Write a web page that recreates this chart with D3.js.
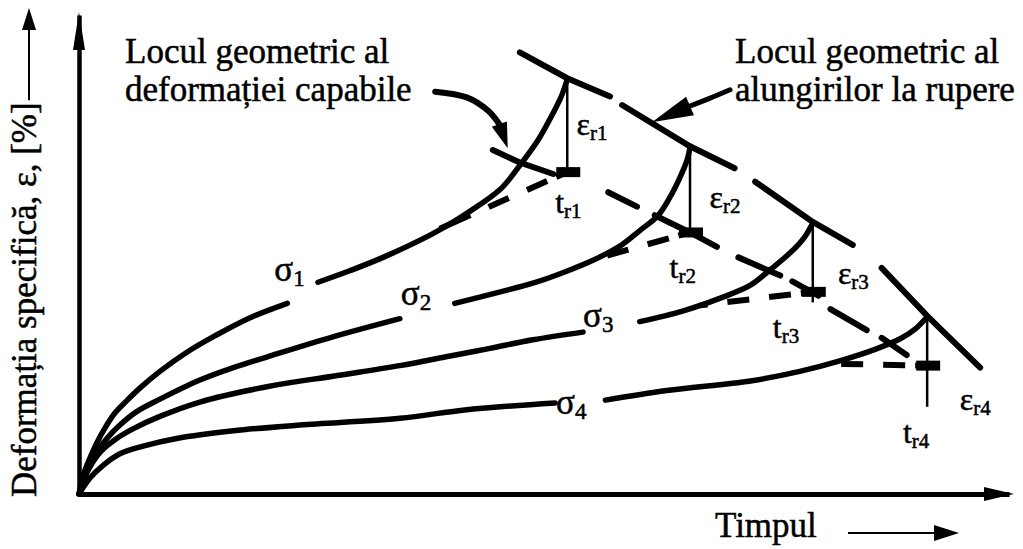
<!DOCTYPE html>
<html>
<head>
<meta charset="utf-8">
<script src="https://cdn.jsdelivr.net/npm/d3@7"></script>
<style>
  html, body { margin: 0; padding: 0; background: #fff; }
  svg { display: block; }
  text { font-family: "Liberation Serif", "Times New Roman", serif; fill: #000; stroke: #000; stroke-width: 0.5px; }
</style>
</head>
<body>
<svg id="chart" width="1023" height="549"></svg>
<script>
// Creep curves: specific strain ε versus time for four stress levels σ1 > σ2 > σ3 > σ4.
// Each curve is a list of [time, strain] points; null marks a break where a label sits.
const stressNames = ["1", "2", "3", "4"];

const creep1 = [[0,0],[0.5,2.1],[1.2,3.8],[1.9,5.3],[2.8,6.9],[3.9,8.5],[5.2,9.8],[6.6,11.1],[8.7,12.8],[11.6,14.8],[14.6,16.5],[18.4,18.4],[22.4,19.9],
  null,[25.7,22.1],[29.1,23.3],[32.7,24.7],[38.1,27.2],[41.7,29.3],[45.3,31.8],[47.4,34.3],[49.4,37.0],[51.0,39.8],[51.9,41.6],[52.5,43.3]];
const creep2 = [[0,0],[0.8,2.3],[1.7,4.1],[3.0,5.8],[4.4,7.2],[6.2,8.6],[8.7,9.9],[13.0,11.9],[16.6,13.2],[20.2,14.3],[27.3,16.4],[34.5,18.3],
  null,[40.4,19.9],[45.3,21.1],[48.8,22.0],[52.3,23.2],[55.5,24.5],[58.2,25.9],[60.3,27.5],[62.2,29.0],[63.5,30.9],[64.6,33.0],[65.4,34.9],[65.7,36.2]];
const creep3 = [[0,0],[1.0,2.5],[2.3,4.4],[3.9,5.7],[5.8,6.8],[8.7,8.1],[13.0,9.6],[20.2,11.2],[27.3,12.3],[34.5,13.4],[39.9,14.4],[44.2,15.2],[48.8,16.1],[54.2,16.9],
  null,[60.3,18.0],[64.9,19.1],[69.1,20.5],[72.2,21.8],[74.3,23.4],[76.5,25.2],[78.0,26.8],[78.9,28.3]];
const creep4 = [[0,0],[1.2,1.7],[2.6,3.0],[4.4,4.2],[6.9,5.0],[10.5,5.8],[16.6,6.6],[23.8,7.2],[34.5,7.9],[41.7,8.8],[51.2,9.5],
  null,[56.6,9.8],[63.2,10.8],[72.2,11.8],[77.5,12.8],[81.8,13.9],[85.6,15.1],[88.3,16.2],[89.9,17.2],[91.2,18.5]];

// Rupture: time t_r, strain at rupture, and the foot of the ε_r segment
const ruptureTime   = [52.5, 65.7, 78.9, 91.2];
const ruptureStrain = [43.3, 36.2, 28.3, 18.5];
const footStrain    = [33.4, 27.2, 20.0, 9.1];

// Straight continuation of the secondary (steady) creep stage up to t_r
const extensionFrom = [[38.8,27.7],[55.7,24.6],[66.8,19.7],[80.8,13.6]];
const extensionTo   = [33.6, 27.3, 21.1, 13.4];

// Locus of elongations at rupture (broken line)
const ruptureLocus = [[47.4,46.1],[52.5,43.4],[57.1,41.5], null,
  [58.4,40.6],[65.7,36.3],[70.5,34.0], null,
  [72.7,32.6],[78.9,28.4],[83.2,26.0], null,
  [86.3,23.6],[91.2,18.6],[96.9,13.2]];

// Locus of the admissible (capable) strain, where tertiary creep begins
const capableLocus = [[44.5,35.9],[47.4,34.6],[51.0,33.4], null,
  [56.9,31.5],[60.0,30.0], null,
  [61.9,29.1],[65.7,27.3],[68.6,25.8], null,
  [70.9,24.7],[75.4,22.8], null,
  [76.7,22.2],[79.5,20.7], null,
  [80.8,19.3],[84.7,17.1], null,
  [86.3,16.3],[89.0,14.5]];

// Pointer arrows from the two notes to their loci
const capableArrow = [[38.3,42.0],[41.7,41.4],[44.0,40.0],[45.2,38.6]];
const capableArrowTip = [46.1,36.1];
const ruptureArrow = [[70.0,42.2],[67.8,41.3],[65.7,40.5]];
const ruptureArrowTip = [61.6,38.8];

// Label anchors (time, strain)
const sigmaAnchor = [[21.0,22.2],[34.6,19.7],[54.2,17.4],[51.3,8.4]];
const epsAnchor   = [[53.5,37.5],[67.8,29.9],[81.6,21.9],[94.7,8.8]];
const timeAnchor  = [[51.2,29.3],[63.5,22.5],[74.6,16.3],[88.6,5.3]];

const yTitle = "Deformația specifică, ε, [%]";
const xTitle = "Timpul";
const leftNote = ["Locul geometric al", "deformației capabile"];
const rightNote = ["Locul geometric al", "alungirilor la rupere"];

const svg = d3.select("#chart");
const x = d3.scaleLinear().domain([0, 100]).range([79, 1009]);
const y = d3.scaleLinear().domain([0, 50]).range([494, 15]);

const smoothLine = d3.line().defined(d => d !== null)
  .x(d => x(d[0])).y(d => y(d[1])).curve(d3.curveCatmullRom.alpha(0.5));
const straightLine = d3.line().defined(d => d !== null)
  .x(d => x(d[0])).y(d => y(d[1]));

function arrowHead(tip, base, hw) {
  const dx = tip[0] - base[0], dy = tip[1] - base[1];
  const len = Math.hypot(dx, dy);
  const px = -dy / len * hw, py = dx / len * hw;
  return `M${tip[0]},${tip[1]}L${base[0] + px},${base[1] + py}L${base[0] - px},${base[1] - py}Z`;
}

// Axes (no ticks, only the axis lines)
const gx = svg.append("g").attr("transform", `translate(0,${y(0)})`)
  .call(d3.axisBottom(x).tickValues([]).tickSizeOuter(0));
gx.select(".domain").attr("stroke", "#000").attr("stroke-width", 5);
const gy = svg.append("g").attr("transform", `translate(${x(0)},0)`)
  .call(d3.axisLeft(y).tickValues([]).tickSizeOuter(0));
gy.select(".domain").attr("stroke", "#000").attr("stroke-width", 4.5);

// axis arrowheads
svg.append("path").attr("d", arrowHead([x(0), 12], [x(0), 50], 6)).attr("fill", "#000");
svg.append("path").attr("d", arrowHead([1014, y(0)], [984, y(0)], 7)).attr("fill", "#000");

// Creep curves
[creep1, creep2, creep3, creep4].forEach(c => {
  svg.append("path").attr("d", smoothLine(c))
    .attr("fill", "none").attr("stroke", "#000")
    .attr("stroke-width", 5.5).attr("stroke-linecap", "round").attr("stroke-linejoin", "round");
});

// Loci
svg.append("path").attr("d", straightLine(ruptureLocus))
  .attr("fill", "none").attr("stroke", "#000").attr("stroke-width", 6).attr("stroke-linecap", "round");
svg.append("path").attr("d", straightLine(capableLocus))
  .attr("fill", "none").attr("stroke", "#000").attr("stroke-width", 6).attr("stroke-linecap", "round");

// ε_r segments, dashed secondary-creep extensions and feet
ruptureTime.forEach((t, i) => {
  svg.append("path")
    .attr("d", straightLine([[t, ruptureStrain[i]], [t, footStrain[i]]]))
    .attr("stroke", "#000").attr("stroke-width", 2.5).attr("fill", "none");
  svg.append("path")
    .attr("d", straightLine([[t, extensionTo[i]], extensionFrom[i]]))
    .attr("stroke", "#000").attr("stroke-width", 6).attr("fill", "none")
    .attr("stroke-dasharray", "12 10 22 20 22 20 300");
  svg.append("rect")
    .attr("x", x(t) - 11).attr("y", y(extensionTo[i]) - 5)
    .attr("width", 24).attr("height", 10).attr("fill", "#000");
});

// Note arrows
svg.append("path").attr("d", smoothLine(capableArrow))
  .attr("fill", "none").attr("stroke", "#000").attr("stroke-width", 6).attr("stroke-linecap", "round");
svg.append("path").attr("d", arrowHead(
    [x(capableArrowTip[0]), y(capableArrowTip[1])],
    [x(capableArrow[3][0]), y(capableArrow[3][1])], 8)).attr("fill", "#000");
svg.append("path").attr("d", smoothLine(ruptureArrow))
  .attr("fill", "none").attr("stroke", "#000").attr("stroke-width", 5).attr("stroke-linecap", "round");
svg.append("path").attr("d", arrowHead(
    [x(ruptureArrowTip[0]), y(ruptureArrowTip[1])],
    [x(ruptureArrow[2][0]), y(ruptureArrow[2][1])], 10)).attr("fill", "#000");

// Labels with subscripts
function subLabel(px, py, main, sub, size, subSize) {
  const t = svg.append("text").attr("x", px).attr("y", py)
    .attr("font-family", "Liberation Serif").attr("font-size", size);
  t.append("tspan").text(main);
  t.append("tspan").attr("font-size", subSize).attr("dy", 5).text(sub);
}
stressNames.forEach((n, i) => subLabel(x(sigmaAnchor[i][0]), y(sigmaAnchor[i][1]), "σ", n, 35, 23));
stressNames.forEach((n, i) => subLabel(x(epsAnchor[i][0]), y(epsAnchor[i][1]), "ε", "r" + n, 32, 21));
stressNames.forEach((n, i) => subLabel(x(timeAnchor[i][0]), y(timeAnchor[i][1]), "t", "r" + n, 32, 21));

// Notes
leftNote.forEach((s, i) => svg.append("text").attr("font-family", "Liberation Serif")
  .attr("x", 125).attr("y", 63 + i * 38).attr("font-size", 35).text(s));
rightNote.forEach((s, i) => svg.append("text").attr("font-family", "Liberation Serif")
  .attr("x", 735).attr("y", 63 + i * 38).attr("font-size", 35).text(s));

// Axis titles with arrows
const yt = svg.append("text").attr("font-family", "Liberation Serif").attr("font-size", 35)
  .attr("transform", "translate(36,497) rotate(-90)").text(yTitle);
const ytLen = yt.node().getComputedTextLength();
svg.append("line").attr("x1", 29).attr("x2", 29).attr("y1", 497 - ytLen - 2).attr("y2", 28)
  .attr("stroke", "#000").attr("stroke-width", 2);
svg.append("path").attr("d", arrowHead([29, 8], [29, 30], 7)).attr("fill", "#000");

svg.append("text").attr("font-family", "Liberation Serif")
  .attr("x", 715).attr("y", 537).attr("font-size", 35).text(xTitle);
svg.append("line").attr("x1", 848).attr("x2", 938).attr("y1", 533).attr("y2", 533)
  .attr("stroke", "#000").attr("stroke-width", 2);
svg.append("path").attr("d", arrowHead([959, 533], [934, 533], 8)).attr("fill", "#000");
</script>
</body>
</html>
